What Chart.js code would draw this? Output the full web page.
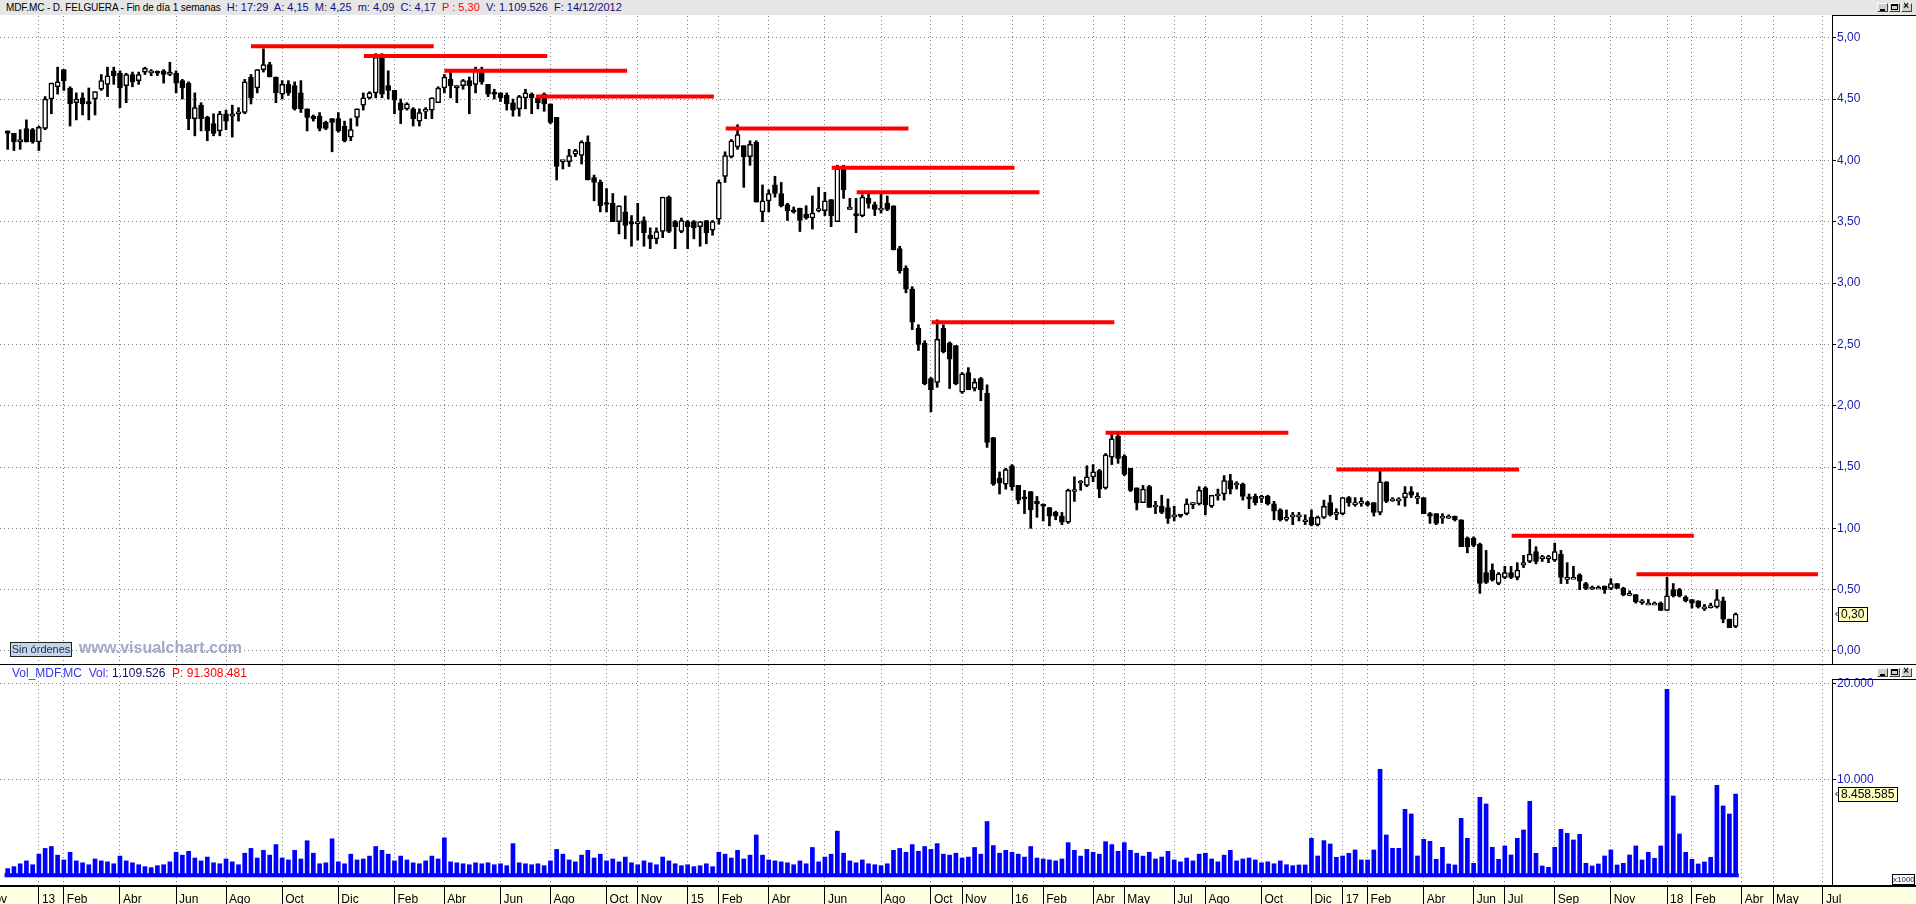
<!DOCTYPE html>
<html>
<head>
<meta charset="utf-8">
<title>MDF.MC - D. FELGUERA</title>
<script src="https://cdn.jsdelivr.net/npm/chart.js@4.4.1/dist/chart.umd.min.js"></script>
<style>
  html, body { margin: 0; padding: 0; }
  body { width: 1916px; height: 904px; position: relative; overflow: hidden; background: #fff;
         font-family: "Liberation Sans", Arial, sans-serif; }
  .abs { position: absolute; }
  #topbar { left: 0; top: 0; width: 1916px; height: 15px; background: #e6e6e6; }
  #title { left: 6px; top: 1px; font-size: 11px; line-height: 13px; white-space: nowrap; color: #000; }
  #title .n { font-size: 10px; letter-spacing: -0.1px; }
  #title .v { color: #10107a; }
  #title .r { color: #ff0000; }
  #xstrip { left: 0; top: 886px; width: 1916px; height: 18px; background: #ffffe1; }
  #priceCanvas { left: 0; top: 16px; }
  #volCanvas { left: 0; top: 665px; }
  .line { background: #000; }
  .box { box-sizing: border-box; border-left: 1px solid #000; border-top: 1px solid #000; }
  #volTitle { left: 12px; top: 666px; font-size: 12px; line-height: 14px; white-space: nowrap; }
  #sinOrd { left: 10px; top: 642px; width: 62px; height: 15px; box-sizing: border-box; border: 1px solid #222;
            background: #c5d5ec; font-size: 11px; line-height: 13px; color: #1a2a4a; text-align: center; }
  #wm { left: 79px; top: 639px; font-size: 16px; font-weight: bold; color: #a3a9c6; white-space: nowrap; }
  #x1000 { left: 1892px; top: 874px; width: 23px; height: 11px; box-sizing: border-box; border: 1px solid #000;
           font-size: 8px; line-height: 9px; color: #10107a; text-align: center; background: #fff; }
  .wb { position: absolute; width: 11px; height: 9px; box-sizing: border-box; background: #d4d0c8;
        border: 1px solid; border-color: #fff #404040 #404040 #fff; }
  .wb i { position: absolute; display: block; }
</style>
</head>
<body>
<div id="topbar" class="abs"></div>
<div id="title" class="abs"><span class="n">MDF.MC - D. FELGUERA - Fin de día 1 semanas</span>&nbsp; <span class="v">H: 17:29&nbsp; A: 4,15&nbsp; M: 4,25&nbsp; m: 4,09&nbsp; C: 4,17</span>&nbsp; <span class="r">P : 5,30</span>&nbsp; <span class="v">V: 1.109.526&nbsp; F: 14/12/2012</span></div>
<div id="xstrip" class="abs"></div>
<canvas id="priceCanvas" class="abs" width="1916" height="648"></canvas>
<canvas id="volCanvas" class="abs" width="1916" height="239"></canvas>

<div class="abs line" style="left:0;top:664px;width:1916px;height:1px"></div>
<div class="abs line" style="left:0;top:885px;width:1916px;height:2px"></div>
<div class="abs box" style="left:1832px;top:15px;width:84px;height:649px"></div>
<div class="abs box" style="left:1832px;top:679px;width:84px;height:207px"></div>

<div id="volTitle" class="abs"><span style="color:#3535f0">Vol_MDF.MC&nbsp; Vol:</span> <span style="color:#141460">1.109.526</span>&nbsp; <span style="color:#ff0000">P: 91.308.481</span></div>
<div id="sinOrd" class="abs">Sin órdenes</div>
<div id="wm" class="abs">www.visualchart.com</div>
<div id="x1000" class="abs">x1000</div>

<div class="wb" style="left:1877px;top:3px"><i style="left:2px;top:5px;width:5px;height:2px;background:#000"></i></div>
<div class="wb" style="left:1889px;top:3px"><i style="left:1px;top:0;width:7px;height:6px;box-sizing:border-box;border:1px solid #000;border-top-width:2px"></i></div>
<div class="wb" style="left:1901px;top:3px"><i style="left:1px;top:-3px;font-size:10px;line-height:10px;font-weight:bold">×</i></div>
<div class="wb" style="left:1877px;top:668px"><i style="left:2px;top:5px;width:5px;height:2px;background:#000"></i></div>
<div class="wb" style="left:1889px;top:668px"><i style="left:1px;top:0;width:7px;height:6px;box-sizing:border-box;border:1px solid #000;border-top-width:2px"></i></div>
<div class="wb" style="left:1901px;top:668px"><i style="left:1px;top:-3px;font-size:10px;line-height:10px;font-weight:bold">×</i></div>

<script>
// weekly candles, one per week, index 0 = last week of Nov 2012
const opens = [
  4.24, 4.22, 4.15, 4.26, 4.25, 4.15, 4.26, 4.50, 4.60, 4.74,
  4.59, 4.47, 4.51, 4.48, 4.50, 4.58, 4.62, 4.73, 4.71, 4.61,
  4.70, 4.65, 4.72, 4.73, 4.72, 4.73, 4.70, 4.71, 4.65, 4.63,
  4.34, 4.45, 4.35, 4.30, 4.24, 4.38, 4.36, 4.38, 4.39, 4.68,
  4.59, 4.74, 4.78, 4.68, 4.54, 4.62, 4.61, 4.55, 4.42, 4.36,
  4.36, 4.31, 4.34, 4.34, 4.28, 4.19, 4.35, 4.45, 4.51, 4.55,
  4.85, 4.61, 4.57, 4.47, 4.42, 4.42, 4.32, 4.40, 4.41, 4.47,
  4.59, 4.66, 4.59, 4.61, 4.65, 4.62, 4.72, 4.62, 4.55, 4.55,
  4.53, 4.47, 4.42, 4.51, 4.54, 4.51, 4.54, 4.46, 4.35, 3.99,
  3.99, 4.05, 4.04, 4.15, 3.86, 3.82, 3.65, 3.65, 3.50, 3.58,
  3.50, 3.50, 3.51, 3.39, 3.36, 3.42, 3.70, 3.50, 3.42, 3.50,
  3.50, 3.46, 3.51, 3.43, 3.52, 3.87, 4.03, 4.11, 4.12, 4.03,
  4.15, 3.58, 3.67, 3.80, 3.73, 3.64, 3.59, 3.61, 3.56, 3.53,
  3.59, 3.59, 3.68, 3.50, 3.93, 3.60, 3.56, 3.55, 3.69, 3.64,
  3.61, 3.65, 3.63, 3.28, 3.12, 2.95, 2.63, 2.51, 2.22, 2.19,
  2.63, 2.51, 2.49, 2.11, 2.27, 2.14, 2.22, 2.10, 1.74, 1.41,
  1.36, 1.51, 1.35, 1.25, 1.30, 1.22, 1.19, 1.17, 1.13, 1.10,
  1.05, 1.30, 1.37, 1.35, 1.42, 1.47, 1.33, 1.58, 1.75, 1.59,
  1.49, 1.33, 1.21, 1.34, 1.19, 1.18, 1.17, 1.11, 1.11, 1.12,
  1.21, 1.20, 1.33, 1.18, 1.28, 1.28, 1.39, 1.37, 1.36, 1.25,
  1.26, 1.26, 1.26, 1.20, 1.15, 1.09, 1.11, 1.11, 1.07, 1.09,
  1.03, 1.09, 1.21, 1.13, 1.12, 1.25, 1.21, 1.22, 1.21, 1.21,
  1.13, 1.38, 1.24, 1.24, 1.25, 1.30, 1.26, 1.25, 1.12, 1.12,
  1.10, 1.10, 1.10, 1.07, 0.92, 0.92, 0.87, 0.64, 0.66, 0.55,
  0.60, 0.64, 0.60, 0.70, 0.73, 0.81, 0.77, 0.77, 0.74, 0.79,
  0.60, 0.60, 0.62, 0.55, 0.52, 0.52, 0.53, 0.51, 0.55, 0.51,
  0.47, 0.46, 0.41, 0.39, 0.39, 0.39, 0.33, 0.50, 0.50, 0.44,
  0.42, 0.41, 0.36, 0.37, 0.36, 0.41, 0.26, 0.20
];
const highs = [
  4.24, 4.22, 4.25, 4.33, 4.26, 4.28, 4.52, 4.63, 4.76, 4.74,
  4.60, 4.55, 4.55, 4.59, 4.56, 4.70, 4.76, 4.76, 4.73, 4.71,
  4.72, 4.72, 4.76, 4.74, 4.73, 4.74, 4.80, 4.73, 4.66, 4.64,
  4.55, 4.47, 4.36, 4.38, 4.40, 4.41, 4.45, 4.43, 4.66, 4.70,
  4.74, 4.91, 4.80, 4.68, 4.65, 4.65, 4.64, 4.65, 4.42, 4.37,
  4.39, 4.32, 4.34, 4.39, 4.32, 4.34, 4.42, 4.55, 4.56, 4.87,
  4.87, 4.73, 4.57, 4.50, 4.47, 4.43, 4.42, 4.43, 4.51, 4.60,
  4.70, 4.73, 4.61, 4.66, 4.68, 4.76, 4.76, 4.62, 4.58, 4.55,
  4.55, 4.50, 4.53, 4.58, 4.55, 4.52, 4.55, 4.46, 4.35, 4.00,
  4.09, 4.09, 4.16, 4.20, 3.88, 3.84, 3.77, 3.73, 3.63, 3.71,
  3.55, 3.65, 3.54, 3.45, 3.45, 3.70, 3.71, 3.51, 3.53, 3.51,
  3.51, 3.50, 3.51, 3.51, 3.84, 4.07, 4.17, 4.29, 4.12, 4.16,
  4.16, 3.80, 3.76, 3.87, 3.82, 3.65, 3.62, 3.61, 3.63, 3.71,
  3.78, 3.74, 3.68, 3.96, 3.96, 3.69, 3.69, 3.72, 3.73, 3.66,
  3.74, 3.71, 3.63, 3.30, 3.14, 2.97, 2.66, 2.53, 2.23, 2.70,
  2.66, 2.52, 2.49, 2.27, 2.31, 2.22, 2.23, 2.17, 1.74, 1.46,
  1.49, 1.52, 1.35, 1.31, 1.30, 1.26, 1.20, 1.17, 1.14, 1.13,
  1.32, 1.42, 1.39, 1.51, 1.52, 1.48, 1.61, 1.77, 1.77, 1.60,
  1.49, 1.33, 1.35, 1.35, 1.22, 1.27, 1.24, 1.18, 1.11, 1.24,
  1.21, 1.34, 1.34, 1.27, 1.32, 1.43, 1.44, 1.38, 1.37, 1.28,
  1.28, 1.27, 1.27, 1.22, 1.16, 1.15, 1.13, 1.13, 1.11, 1.15,
  1.10, 1.23, 1.27, 1.16, 1.25, 1.26, 1.25, 1.25, 1.22, 1.21,
  1.48, 1.38, 1.25, 1.25, 1.34, 1.34, 1.29, 1.25, 1.13, 1.12,
  1.12, 1.11, 1.10, 1.07, 0.93, 0.93, 0.88, 0.82, 0.71, 0.64,
  0.69, 0.69, 0.72, 0.78, 0.91, 0.85, 0.78, 0.78, 0.88, 0.82,
  0.72, 0.69, 0.63, 0.56, 0.53, 0.53, 0.53, 0.59, 0.55, 0.52,
  0.49, 0.46, 0.42, 0.42, 0.40, 0.40, 0.60, 0.55, 0.51, 0.45,
  0.42, 0.41, 0.38, 0.39, 0.50, 0.44, 0.26, 0.31
];
const lows = [
  4.09, 4.08, 4.09, 4.15, 4.14, 4.08, 4.25, 4.38, 4.54, 4.57,
  4.28, 4.33, 4.37, 4.33, 4.37, 4.57, 4.52, 4.62, 4.43, 4.47,
  4.60, 4.62, 4.70, 4.69, 4.69, 4.63, 4.69, 4.55, 4.50, 4.25,
  4.20, 4.24, 4.16, 4.20, 4.20, 4.25, 4.19, 4.32, 4.38, 4.46,
  4.55, 4.72, 4.68, 4.47, 4.50, 4.53, 4.41, 4.39, 4.24, 4.32,
  4.24, 4.25, 4.07, 4.23, 4.15, 4.16, 4.28, 4.41, 4.50, 4.51,
  4.51, 4.50, 4.38, 4.30, 4.41, 4.28, 4.28, 4.34, 4.34, 4.47,
  4.55, 4.51, 4.47, 4.58, 4.38, 4.55, 4.62, 4.52, 4.50, 4.48,
  4.41, 4.36, 4.36, 4.42, 4.38, 4.42, 4.40, 4.30, 3.84, 3.93,
  3.95, 4.03, 3.97, 3.84, 3.67, 3.58, 3.58, 3.50, 3.40, 3.36,
  3.30, 3.35, 3.30, 3.28, 3.32, 3.37, 3.41, 3.28, 3.41, 3.28,
  3.36, 3.30, 3.32, 3.39, 3.48, 3.82, 4.02, 4.09, 3.78, 3.96,
  3.66, 3.50, 3.58, 3.70, 3.62, 3.51, 3.57, 3.42, 3.52, 3.44,
  3.58, 3.55, 3.46, 3.50, 3.69, 3.60, 3.41, 3.54, 3.61, 3.55,
  3.57, 3.59, 3.27, 3.08, 2.92, 2.62, 2.45, 2.17, 1.95, 2.15,
  2.43, 2.14, 2.17, 2.10, 2.13, 2.12, 2.04, 1.66, 1.35, 1.28,
  1.32, 1.31, 1.20, 1.12, 1.00, 1.09, 1.06, 1.02, 1.07, 1.03,
  1.04, 1.22, 1.31, 1.34, 1.38, 1.25, 1.32, 1.52, 1.53, 1.43,
  1.30, 1.15, 1.21, 1.17, 1.12, 1.12, 1.04, 1.06, 1.09, 1.11,
  1.16, 1.19, 1.11, 1.17, 1.23, 1.23, 1.28, 1.32, 1.23, 1.16,
  1.19, 1.21, 1.19, 1.07, 1.06, 1.06, 1.03, 1.06, 1.03, 1.02,
  1.02, 1.08, 1.10, 1.07, 1.11, 1.18, 1.18, 1.18, 1.18, 1.10,
  1.11, 1.21, 1.22, 1.19, 1.18, 1.25, 1.20, 1.12, 1.04, 1.03,
  1.04, 1.08, 1.06, 0.85, 0.80, 0.85, 0.47, 0.55, 0.57, 0.54,
  0.59, 0.59, 0.58, 0.68, 0.72, 0.71, 0.73, 0.72, 0.73, 0.55,
  0.55, 0.59, 0.50, 0.50, 0.50, 0.51, 0.47, 0.50, 0.51, 0.45,
  0.45, 0.39, 0.38, 0.38, 0.38, 0.33, 0.33, 0.44, 0.44, 0.40,
  0.35, 0.35, 0.33, 0.35, 0.35, 0.23, 0.19, 0.19
];
const closes = [
  4.22, 4.15, 4.17, 4.15, 4.15, 4.27, 4.50, 4.63, 4.64, 4.65,
  4.46, 4.50, 4.46, 4.46, 4.56, 4.65, 4.69, 4.69, 4.59, 4.70,
  4.64, 4.70, 4.75, 4.73, 4.71, 4.70, 4.72, 4.63, 4.59, 4.34,
  4.43, 4.34, 4.24, 4.22, 4.38, 4.32, 4.38, 4.39, 4.64, 4.51,
  4.74, 4.78, 4.68, 4.55, 4.62, 4.55, 4.42, 4.42, 4.35, 4.34,
  4.26, 4.26, 4.31, 4.24, 4.16, 4.25, 4.42, 4.51, 4.55, 4.84,
  4.54, 4.57, 4.49, 4.41, 4.46, 4.34, 4.39, 4.41, 4.51, 4.59,
  4.68, 4.61, 4.61, 4.65, 4.61, 4.74, 4.64, 4.54, 4.54, 4.51,
  4.46, 4.41, 4.52, 4.55, 4.51, 4.47, 4.46, 4.31, 3.95, 4.00,
  4.04, 4.08, 4.15, 3.84, 3.82, 3.63, 3.64, 3.50, 3.63, 3.47,
  3.48, 3.50, 3.41, 3.36, 3.42, 3.70, 3.42, 3.46, 3.51, 3.46,
  3.45, 3.50, 3.41, 3.50, 3.82, 4.04, 4.16, 4.21, 4.03, 4.13,
  3.66, 3.67, 3.73, 3.73, 3.63, 3.59, 3.58, 3.51, 3.53, 3.57,
  3.60, 3.67, 3.55, 3.93, 3.76, 3.62, 3.55, 3.70, 3.65, 3.60,
  3.61, 3.60, 3.27, 3.10, 2.95, 2.68, 2.50, 2.18, 2.13, 2.54,
  2.44, 2.38, 2.18, 2.26, 2.13, 2.19, 2.13, 1.70, 1.36, 1.37,
  1.48, 1.34, 1.23, 1.24, 1.15, 1.20, 1.18, 1.10, 1.10, 1.05,
  1.31, 1.31, 1.38, 1.42, 1.46, 1.32, 1.60, 1.73, 1.57, 1.44,
  1.31, 1.21, 1.32, 1.17, 1.19, 1.13, 1.08, 1.11, 1.10, 1.20,
  1.21, 1.31, 1.19, 1.27, 1.28, 1.39, 1.32, 1.37, 1.26, 1.24,
  1.21, 1.26, 1.20, 1.14, 1.07, 1.09, 1.11, 1.11, 1.07, 1.03,
  1.09, 1.18, 1.11, 1.13, 1.25, 1.21, 1.21, 1.22, 1.19, 1.13,
  1.38, 1.22, 1.24, 1.24, 1.29, 1.27, 1.26, 1.12, 1.10, 1.04,
  1.10, 1.10, 1.07, 0.85, 0.85, 0.86, 0.55, 0.56, 0.58, 0.63,
  0.64, 0.60, 0.66, 0.72, 0.79, 0.73, 0.77, 0.77, 0.81, 0.60,
  0.60, 0.60, 0.57, 0.51, 0.52, 0.52, 0.50, 0.55, 0.51, 0.46,
  0.47, 0.40, 0.41, 0.39, 0.39, 0.33, 0.45, 0.45, 0.45, 0.41,
  0.39, 0.36, 0.36, 0.37, 0.42, 0.26, 0.19, 0.30
];
// weekly volume, in thousands of shares (axis is x1000)
const volumes = [
  700, 900, 1200, 1500, 1100, 2200, 2800, 3000, 2100, 1600,
  2400, 1500, 1300, 1100, 1700, 1500, 1400, 1200, 2000, 1500,
  1300, 1100, 900, 800, 1000, 1100, 1400, 2400, 2100, 2500,
  1800, 1500, 1900, 1300, 1200, 1700, 1400, 1100, 2300, 2800,
  1800, 2600, 2100, 3200, 1800, 1600, 2600, 1700, 3600, 2300,
  1200, 1300, 3800, 1400, 1200, 2200, 1600, 1700, 2000, 3000,
  2600, 2200, 1500, 2000, 1600, 1300, 1200, 1500, 2000, 1700,
  3900, 1400, 1300, 1200, 1100, 1300, 1200, 1300, 1100, 1200,
  1000, 3300, 1300, 1200, 1100, 1200, 1000, 1500, 2700, 2200,
  1600, 1400, 2100, 2600, 1800, 2200, 1500, 1700, 1400, 1900,
  1300, 1100, 1500, 1300, 1100, 1900, 1500, 1200, 1000, 1100,
  900, 1000, 1200, 900, 2400, 2200, 1800, 2600, 1700, 2100,
  4200, 2100, 1600, 1500, 1400, 1300, 1100, 1500, 1200, 2900,
  1400, 1900, 2200, 4600, 2300, 1500, 1300, 1600, 1200, 1100,
  1000, 1200, 2600, 2800, 2400, 3200, 2500, 3000, 2700, 3300,
  2200, 2100, 2300, 1800, 1900, 2900, 2200, 5600, 3100, 2300,
  2600, 2400, 2200, 1900, 3000, 1800, 1700, 1600, 1500, 1700,
  3400, 2600, 2000, 2700, 2400, 2200, 3500, 3200, 2500, 3400,
  2600, 2300, 2000, 2400, 1700, 1900, 2500, 1600, 1400, 1800,
  1500, 2200, 2300, 1700, 1400, 2100, 2600, 1500, 1700, 1800,
  1600, 1300, 1400, 1200, 1500, 1100, 1000,
  1076, 1076, 3854, 2014, 3611, 3264, 1875, 2014, 2292, 2639,
  1597, 1597, 2639, 11041, 4201, 2812, 2812, 6875, 6389, 2014,
  3750, 3541, 1667, 2917, 1180, 1076, 5937, 3854, 1250, 8125,
  7430, 2917, 1667, 3055, 2118, 3854, 4722, 7708, 2292, 972,
  833, 2917, 4791, 4375, 3680, 4270, 1250, 972, 1180, 2014,
  2639, 1076, 1250, 2118, 3055, 1597, 2396, 1770, 3055, 19375,
  8264, 4305, 2396, 1667, 1180, 1389, 1875, 9375, 7222, 6389,
  8458.585
];

// red resistance lines: level and the weeks they run between
const resLevel = [4.93, 4.85, 4.73, 4.52, 4.26, 3.94, 3.74, 2.68, 1.78, 1.48, 0.94, 0.625];
const resFrom  = [39.0, 57.1, 70.0, 84.7, 115.1, 132.1, 136.1, 148.1, 176.0, 213.0, 241.1, 261.1];
const resTo    = [68.3, 86.5, 99.3, 113.2, 144.4, 161.4, 165.4, 177.4, 205.3, 242.3, 270.3, 290.2];

// month labels on the time axis (week index where each one sits)
const tickWeek = [-4, 5, 9, 18, 27, 35, 44, 53, 62, 70, 79, 87, 96, 101, 109, 114, 122, 131, 140, 148,
                  153, 161, 166, 174, 179, 187, 192, 201, 209, 214, 218, 227, 235, 240, 248, 257, 266, 270, 278, 283, 291];
const tickText = ['Nov', '13', 'Feb', 'Abr', 'Jun', 'Ago', 'Oct', 'Dic', 'Feb', 'Abr', 'Jun', 'Ago', 'Oct', 'Nov', '15', 'Feb', 'Abr', 'Jun', 'Ago', 'Oct',
                  'Nov', '16', 'Feb', 'Abr', 'May', 'Jul', 'Ago', 'Oct', 'Dic', '17', 'Feb', 'Abr', 'Jun', 'Jul', 'Sep', 'Nov', '18', 'Feb', 'Abr', 'May', 'Jul'];

const priceTicks = [0, 0.5, 1, 1.5, 2, 2.5, 3, 3.5, 4, 4.5, 5];
const volTicks = [10000, 20000];

// view window
const xMin = -1.234, xMax = 292.45;
const fontFam = '"Liberation Sans", Arial, sans-serif';
const gridColor = '#7f7f7f';
const axisText = '#1a1aa8';

const fmtPrice = v => v.toFixed(2).replace('.', ',');
const fmtThousands = v => String(Math.round(v)).replace(/\B(?=(\d{3})+(?!\d))/g, '.');

const idx = closes.map((_, i) => i);

function weekTicks(scale) { scale.ticks = tickWeek.map(v => ({ value: v })); }
function noPad(scale) { scale.paddingTop = 0; scale.paddingBottom = 0; scale.paddingLeft = 0; scale.paddingRight = 0; }

// yellow tag with the last value, next to the right axis
const lastTag = {
    id: 'lastTag',
    afterDraw(chart, args, opts) {
        if (!opts || opts.value === undefined) return;
        const ctx = chart.ctx;
        const area = chart.chartArea;
        const y = Math.round(chart.scales.y.getPixelForValue(opts.value));
        ctx.save();
        ctx.font = '12px ' + fontFam;
        const w = Math.ceil(ctx.measureText(opts.text).width) + 5;
        const x0 = area.right + 6;
        ctx.fillStyle = '#ffffc0';
        ctx.fillRect(x0, y - 7, w, 15);
        ctx.strokeStyle = '#000';
        ctx.lineWidth = 1;
        ctx.strokeRect(x0 + 0.5, y - 6.5, w, 14);
        ctx.fillStyle = '#000';
        ctx.textBaseline = 'middle';
        ctx.fillText(opts.text, x0 + 3, y + 1);
        ctx.beginPath();
        ctx.moveTo(area.right + 5.5, y - 2);
        ctx.lineTo(area.right + 3.5, y);
        ctx.lineTo(area.right + 5.5, y + 2);
        ctx.stroke();
        ctx.restore();
    }
};

const resDatasets = resLevel.map((lv, k) => ({
    type: 'line',
    data: [{ x: resFrom[k], y: lv }, { x: resTo[k], y: lv }],
    borderColor: '#ff0000',
    borderWidth: 4,
    borderCapStyle: 'butt',
    pointRadius: 0,
    fill: false,
    order: 0
}));

const bodyDs = {
    type: 'bar',
    data: idx.map(i => ({ x: i, y: [opens[i], closes[i]] })),
    backgroundColor: idx.map(i => closes[i] >= opens[i] ? '#ffffff' : '#000000'),
    borderColor: '#000000',
    borderWidth: 1.5,
    borderSkipped: false,
    barThickness: 5,
    minBarLength: 2,
    grouped: false,
    order: 1
};

const wickDs = {
    type: 'bar',
    data: idx.map(i => ({ x: i, y: [lows[i], highs[i]] })),
    backgroundColor: '#000000',
    barThickness: 2,
    grouped: false,
    order: 2
};

new Chart(document.getElementById('priceCanvas'), {
    type: 'bar',
    data: { datasets: [...resDatasets, bodyDs, wickDs] },
    options: {
        responsive: false,
        animation: false,
        devicePixelRatio: 1,
        layout: { padding: 0 },
        plugins: {
            legend: { display: false },
            tooltip: { enabled: false },
            lastTag: { value: closes[closes.length - 1], text: fmtPrice(closes[closes.length - 1]) }
        },
        scales: {
            x: {
                type: 'linear', min: xMin, max: xMax, offset: false,
                grid: { color: gridColor, drawTicks: false, offset: false },
                border: { display: false, dash: [1, 3] },
                ticks: { display: false },
                afterBuildTicks: weekTicks,
                afterFit: s => { s.height = 0; noPad(s); }
            },
            y: {
                position: 'right', min: -0.106, max: 5.177,
                grid: { color: gridColor, tickLength: 4, tickColor: '#000', tickBorderDash: [], tickWidth: 1 },
                border: { display: false, dash: [1, 3] },
                ticks: { color: axisText, padding: 1, font: { family: fontFam, size: 12 }, callback: v => fmtPrice(v) },
                afterBuildTicks: s => { s.ticks = priceTicks.map(v => ({ value: v })); },
                afterFit: s => { s.width = 84; noPad(s); }
            }
        }
    },
    plugins: [lastTag]
});

new Chart(document.getElementById('volCanvas'), {
    type: 'bar',
    data: {
        datasets: [
            {
                type: 'line',
                data: [{ x: -0.5, y: 0 }, { x: volumes.length - 0.5, y: 0 }],
                borderColor: '#0000ff',
                borderWidth: 4,
                pointRadius: 0,
                fill: false,
                order: 0
            },
            {
                type: 'bar',
                data: idx.map(i => ({ x: i, y: volumes[i] })),
                backgroundColor: '#0000ff',
                barThickness: 4,
                grouped: false,
                order: 1
            }
        ]
    },
    options: {
        responsive: false,
        animation: false,
        devicePixelRatio: 1,
        layout: { padding: 0 },
        plugins: {
            legend: { display: false },
            tooltip: { enabled: false },
            lastTag: { value: volumes[volumes.length - 1], text: fmtThousands(volumes[volumes.length - 1] * 1000) }
        },
        scales: {
            x: {
                type: 'linear', min: xMin, max: xMax, offset: false,
                grid: { color: gridColor, drawTicks: true, tickLength: 18, tickColor: '#000', tickBorderDash: [], tickWidth: 1, offset: false },
                border: { display: false, dash: [1, 3] },
                ticks: {
                    autoSkip: false, maxRotation: 0, minRotation: 0, align: 'start', labelOffset: 3, padding: -12,
                    color: '#000', font: { family: fontFam, size: 12 },
                    callback: (v, k) => tickText[k]
                },
                afterBuildTicks: weekTicks,
                afterFit: s => { s.height = 18; noPad(s); }
            },
            y: {
                position: 'right', min: -1115, max: 21906,
                grid: { color: gridColor, tickLength: 4, tickColor: '#000', tickBorderDash: [], tickWidth: 1 },
                border: { display: false, dash: [1, 3] },
                ticks: { color: axisText, padding: 1, font: { family: fontFam, size: 12 }, callback: v => fmtThousands(v) },
                afterBuildTicks: s => { s.ticks = volTicks.map(v => ({ value: v })); },
                afterFit: s => { s.width = 84; noPad(s); }
            }
        }
    },
    plugins: [lastTag]
});
</script>
</body>
</html>
